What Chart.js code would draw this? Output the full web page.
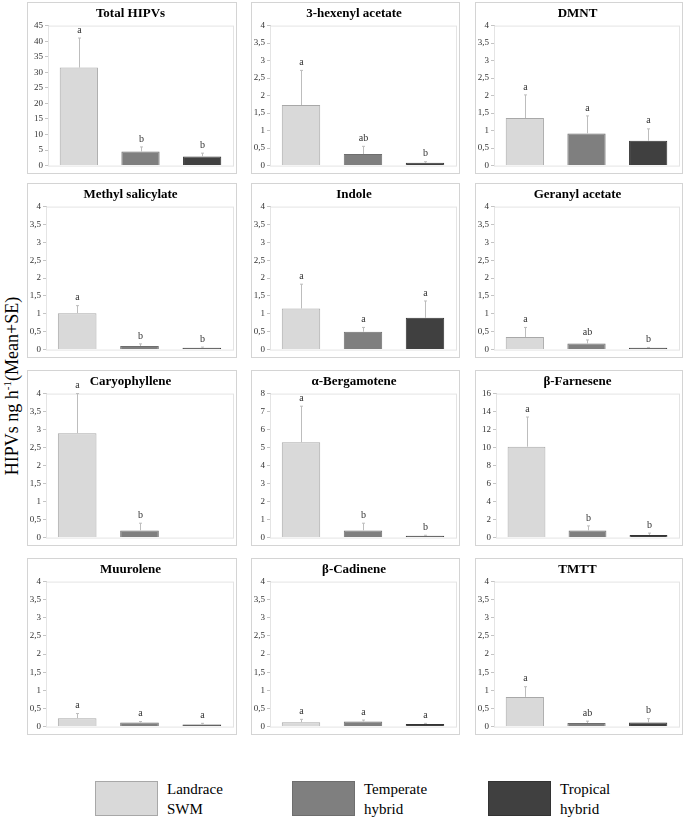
<!DOCTYPE html>
<html>
<head>
<meta charset="utf-8">
<script src="https://cdn.jsdelivr.net/npm/chart.js@4"></script>
<style>
  body { margin: 0; background: #fff; width: 685px; height: 817px; position: relative; overflow: hidden; font-family: "Liberation Serif", "Times New Roman", serif; }
  .panel { position: absolute; box-sizing: border-box; border: 1px solid #d4d4d4; background: #fff; }
  .panel canvas { display: block; }
  #ytitle { position: absolute; left: 12px; top: 386px; transform: translate(-50%, -50%) rotate(-90deg); white-space: nowrap; font-size: 18px; color: #000; }
  #ytitle sup { font-size: 11px; }
  .leg { position: absolute; top: 781px; }
  .leg .sw { position: absolute; left: 0; top: 0; width: 63px; height: 35px; box-sizing: border-box; }
  .leg .tx { position: absolute; left: 72px; top: -2px; font-size: 15px; line-height: 20px; color: #000; white-space: nowrap; }
</style>
</head>
<body>
<div id="ytitle">HIPVs ng h<sup>-1</sup>(Mean+SE)</div>
<div id="legend"></div>

<script>
// groups and colours
const groups = ["Landrace SWM", "Temperate hybrid", "Tropical hybrid"];
const groupColors = ["#d9d9d9", "#7f7f7f", "#404040"];
const groupBorders = ["#a8a8a8", "#6e6e6e", "#333333"];

// one entry per panel, read left to right, top to bottom
const compounds = ["Total HIPVs", "3-hexenyl acetate", "DMNT",
  "Methyl salicylate", "Indole", "Geranyl acetate",
  "Caryophyllene", "\u03b1-Bergamotene", "\u03b2-Farnesene",
  "Muurolene", "\u03b2-Cadinene", "TMTT"];

const landraceMean = [31.5, 1.73, 1.36, 1.02, 1.15, 0.35, 2.90, 5.3, 10.1, 0.23, 0.12, 0.82];
const temperateMean = [4.5, 0.33, 0.92, 0.10, 0.50, 0.17, 0.20, 0.4, 0.8, 0.11, 0.14, 0.10];
const tropicalMean = [2.9, 0.08, 0.71, 0.05, 0.89, 0.05, null, 0.1, 0.3, 0.06, 0.07, 0.11];

const landraceSE = [9.5, 0.99, 0.66, 0.21, 0.68, 0.27, 1.10, 2.0, 3.3, 0.13, 0.08, 0.28];
const temperateSE = [1.5, 0.22, 0.50, 0.06, 0.12, 0.10, 0.20, 0.4, 0.5, 0.03, 0.04, 0.05];
const tropicalSE = [1.1, 0.03, 0.34, 0.02, 0.47, 0.01, null, 0.03, 0.2, 0.03, 0.02, 0.11];

const landraceLetters = ["a", "a", "a", "a", "a", "a", "a", "a", "a", "a", "a", "a"];
const temperateLetters = ["b", "ab", "a", "b", "a", "ab", "b", "b", "b", "a", "a", "ab"];
const tropicalLetters = ["b", "b", "a", "b", "a", "b", "", "b", "b", "a", "a", "b"];

const yMax = [45, 4, 4, 4, 4, 4, 4, 8, 16, 4, 4, 4];
const yStep = [5, 0.5, 0.5, 0.5, 0.5, 0.5, 0.5, 1, 2, 0.5, 0.5, 0.5];

// panel boxes
const colLeft = [27, 251, 475];
const colWidth = [210, 209, 208];
const rowTop = [2, 183, 370, 558];
const rowHeight = [172, 175, 176, 177];

const serif = "'Liberation Serif', 'Times New Roman', serif";

const frame = {
  id: "frame",
  beforeDatasetsDraw(chart) {
    const a = chart.chartArea;
    const ctx = chart.ctx;
    ctx.save();
    ctx.strokeStyle = "#e4e4e4";
    ctx.lineWidth = 1;
    ctx.strokeRect(a.left + 0.5, a.top + 0.5, a.right - a.left, a.bottom - a.top);
    ctx.restore();
  }
};

const errorBars = {
  id: "errorBars",
  afterDatasetsDraw(chart, args, opts) {
    const ctx = chart.ctx;
    const y = chart.scales.y;
    const meta = chart.getDatasetMeta(0);
    ctx.save();
    meta.data.forEach((bar, i) => {
      const m = opts.means[i];
      if (m === null) return;
      const top = y.getPixelForValue(m + opts.se[i]);
      const base = y.getPixelForValue(m);
      const x = Math.round(bar.x) + 0.5;
      ctx.strokeStyle = "#bdbdbd";
      ctx.lineWidth = 1;
      ctx.beginPath();
      ctx.moveTo(x, base);
      ctx.lineTo(x, top);
      ctx.moveTo(x - 1.5, top);
      ctx.lineTo(x + 1.5, top);
      ctx.stroke();
      if (opts.letters[i]) {
        ctx.fillStyle = "#333";
        ctx.font = "10px " + serif;
        ctx.textAlign = "center";
        ctx.textBaseline = "bottom";
        ctx.fillText(opts.letters[i], x, top - 3);
      }
    });
    ctx.restore();
  }
};

const makePanel = (i) => {
  const r = Math.floor(i / 3), c = i % 3;
  const box = document.createElement("div");
  box.className = "panel";
  box.style.left = colLeft[c] + "px";
  box.style.top = rowTop[r] + "px";
  box.style.width = colWidth[c] + "px";
  box.style.height = rowHeight[r] + "px";
  const cv = document.createElement("canvas");
  cv.width = colWidth[c] - 2;
  cv.height = rowHeight[r] - 2;
  cv.style.width = cv.width + "px";
  cv.style.height = cv.height + "px";
  box.appendChild(cv);
  document.body.appendChild(box);

  const means = [landraceMean[i], temperateMean[i], tropicalMean[i]];
  const se = [landraceSE[i], temperateSE[i], tropicalSE[i]];
  const letters = [landraceLetters[i], temperateLetters[i], tropicalLetters[i]];
  const axisWidth = yMax[i] >= 10 ? 20 : 18;

  new Chart(cv.getContext("2d"), {
    type: "bar",
    data: {
      labels: groups,
      datasets: [{
        data: means,
        backgroundColor: groupColors,
        borderColor: groupBorders,
        borderWidth: 1,
        barPercentage: 0.62,
        categoryPercentage: 1.0
      }]
    },
    options: {
      responsive: false,
      animation: false,
      events: [],
      layout: { padding: { left: 0, right: 3, top: 0, bottom: 6 } },
      plugins: {
        legend: { display: false },
        tooltip: { enabled: false },
        title: {
          display: true,
          text: compounds[i],
          color: "#000",
          font: { family: serif, weight: "bold", size: 13 },
          padding: { top: 3, bottom: 4 }
        },
        errorBars: { means: means, se: se, letters: letters }
      },
      scales: {
        x: { display: false },
        y: {
          min: 0,
          max: yMax[i],
          afterFit: (s) => { s.width = axisWidth; },
          ticks: {
            stepSize: yStep[i],
            padding: 2,
            color: "#333",
            font: { family: serif, size: 9 },
            callback: (v) => String(v).replace(".", ",")
          },
          grid: { drawOnChartArea: false, drawTicks: true, tickLength: 3, color: "#c4c4c4" },
          border: { color: "#c4c4c4" }
        }
      }
    },
    plugins: [frame, errorBars]
  });
};

// legend
const legendLeft = [95, 292, 488];
const legendText = [["Landrace", "SWM"], ["Temperate", "hybrid"], ["Tropical", "hybrid"]];
const legend = document.getElementById("legend");
groups.forEach((g, k) => {
  const item = document.createElement("div");
  item.className = "leg";
  item.style.left = legendLeft[k] + "px";
  item.innerHTML = '<div class="sw" style="background:' + groupColors[k] + ';border:1px solid ' + groupBorders[k] + '"></div>' +
    '<div class="tx">' + legendText[k].join("<br>") + "</div>";
  legend.appendChild(item);
});

Promise.all([
  document.fonts.load("bold 13px 'Liberation Serif'"),
  document.fonts.load("9px 'Liberation Serif'")
]).catch(() => {}).then(() => {
  compounds.forEach((name, i) => makePanel(i));
});
</script>
</body>
</html>
